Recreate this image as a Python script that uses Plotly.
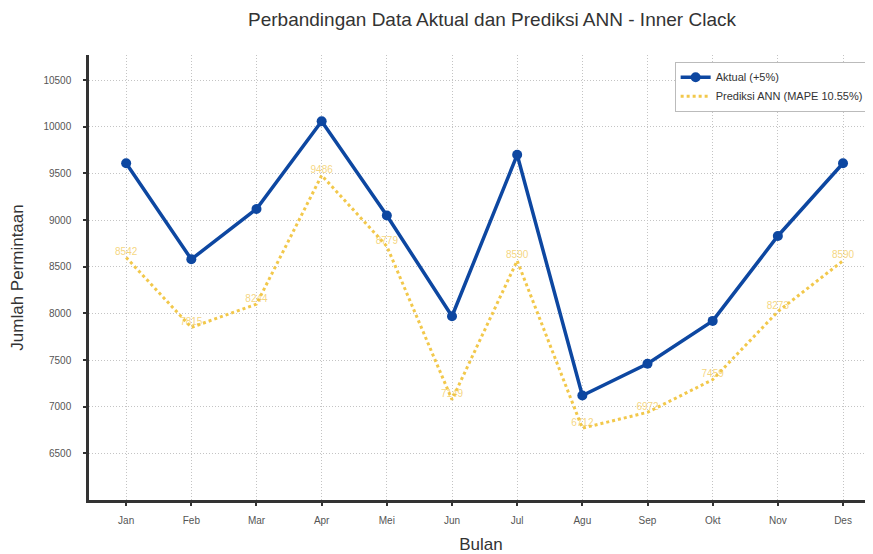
import plotly.graph_objects as go

months = ["Jan", "Feb", "Mar", "Apr", "Mei", "Jun", "Jul", "Agu", "Sep", "Okt", "Nov", "Des"]
aktual = [9610, 8580, 9120, 10060, 9050, 7970, 9700, 7120, 7460, 7920, 8830, 9610]
prediksi = [8600, 7850, 8100, 9480, 8720, 7075, 8565, 6770, 6940, 7290, 8020, 8565]
pred_labels = ["8542", "7815", "8244", "9486", "8779", "7149", "8590", "6712", "6972", "7459", "8273", "8590"]
y_ticks = [6500, 7000, 7500, 8000, 8500, 9000, 9500, 10000, 10500]
y_ticktext = [str(v) for v in y_ticks]

x = list(range(len(months)))
font = "Liberation Sans, Arial, sans-serif"

# page body has a default 8px margin, so the figure is 8px smaller
W, H = 865, 546

fig = go.Figure()
fig.add_trace(go.Scatter(
    x=x, y=aktual, mode="lines+markers", name="Aktual (+5%)",
    line=dict(color="#0d47a1", width=3.5),
    marker=dict(size=10, color="#0d47a1"),
))
fig.add_trace(go.Scatter(
    x=x, y=prediksi, mode="lines", name="Prediksi ANN (MAPE 10.55%)",
    line=dict(color="#f2c84b", width=3, dash="dot"),
))
fig.add_trace(go.Scatter(
    x=x, y=prediksi, mode="text", text=pred_labels, textposition="top center",
    textfont=dict(color="rgba(240,195,70,0.7)", size=10, family=font),
    showlegend=False, hoverinfo="skip",
))

fig.update_layout(
    width=W, height=H,
    margin=dict(l=81, r=0, t=47, b=54, autoexpand=False),
    plot_bgcolor="white", paper_bgcolor="white",
    font=dict(family=font, color="#444"),
    title=dict(text="Perbandingan Data Aktual dan Prediksi ANN - Inner Clack",
               x=484 / W, xanchor="center", y=1 - 11 / H, yanchor="middle",
               font=dict(size=19, color="#333", family=font)),
    legend=dict(x=0.747, y=0.985, xanchor="left", yanchor="top",
                bgcolor="white", bordercolor="#bbb", borderwidth=1,
                font=dict(size=11, color="#333", family=font),
                tracegroupgap=0, itemwidth=30),
    showlegend=True,
)
fig.update_xaxes(
    range=[-0.57, 11.46], tickmode="array", tickvals=x, ticktext=months,
    showline=True, linecolor="#333", linewidth=2.5,
    ticks="outside", ticklen=3, tickcolor="#333", tickwidth=2,
    ticklabelstandoff=6,
    showgrid=True, gridcolor="#c4c4c4", griddash="1px,2px", gridwidth=1,
    tickfont=dict(size=10, color="#555"),
    title=dict(text="Bulan", font=dict(size=17, color="#333"), standoff=14),
    zeroline=False, automargin=False,
)
fig.update_yaxes(
    range=[6000, 10770], tickmode="array", tickvals=y_ticks, ticktext=y_ticktext,
    showline=True, linecolor="#333", linewidth=2.5,
    ticks="outside", ticklen=3, tickcolor="#333", tickwidth=2,
    ticklabelstandoff=10,
    showgrid=True, gridcolor="#c4c4c4", griddash="1px,2px", gridwidth=1,
    tickfont=dict(size=10, color="#555"),
    title=dict(text="Jumlah Permintaan", font=dict(size=17, color="#333"), standoff=17),
    zeroline=False, automargin=False,
)

fig.write_html("out.html")
